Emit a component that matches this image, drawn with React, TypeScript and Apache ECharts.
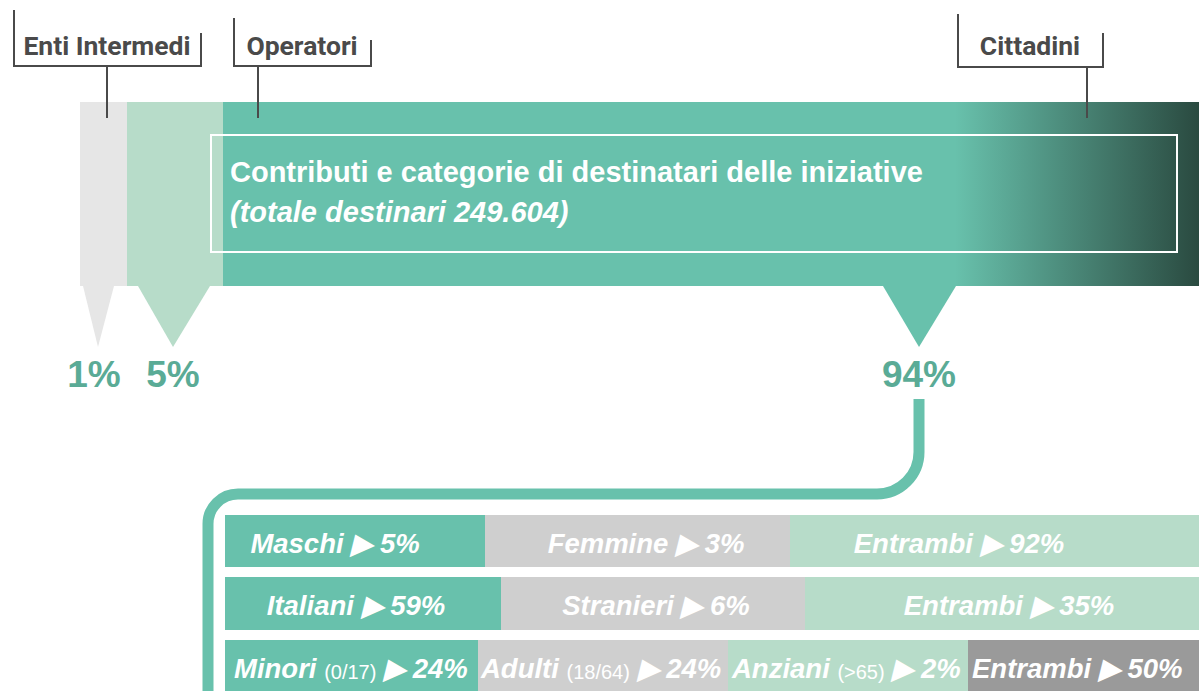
import React, { useEffect, useRef } from "react";
import * as echarts from "echarts";

// ---- data ----
const topCategories = ["Enti Intermedi", "Operatori", "Cittadini"];
const topShares = [1, 5, 94];
const titleText = "Contributi e categorie di destinatari delle iniziative";
const subtitleText = "(totale destinari 249.604)";

const genderLabels = ["Maschi", "Femmine", "Entrambi"];
const genderValues = [5, 3, 92];
const originLabels = ["Italiani", "Stranieri", "Entrambi"];
const originValues = [59, 6, 35];
const ageLabels = ["Minori", "Adulti", "Anziani", "Entrambi"];
const ageRanges = ["(0/17)", "(18/64)", "(>65)", ""];
const ageValues = [24, 24, 2, 50];

// ---- layout / style ----
const TEAL = "#68c1ac";
const LIGHT = "#b7dcc9";
const GREY = "#e6e6e6";
const MIDGREY = "#cfcfcf";
const DARKGREY = "#9a9a9a";
const PCT = "#5aab96";
const INK = "#4a4a4a";
const FONT = "'Liberation Sans', Arial, sans-serif";
const NARROW = "'Liberation Sans Narrow', 'Roboto', sans-serif";

export default function App() {
  const ref = useRef<HTMLDivElement>(null);
  useEffect(() => {
    document.body.style.margin = "0";
    const chart = echarts.init(ref.current!, null, { renderer: "svg" });
    echarts.graphic.registerShape(
      "connector",
      echarts.graphic.extendPath(
        "M919 399 L919 452 C919 475.2 900.2 494 877 494 L238 494 C221.4 494 208 507.4 208 524 L208 700",
        {}
      )
    );

    const g: any[] = [];
    // top bar segments
    const barY = 102, barH = 184;
    const segX = [80, 127, 223, 1199];
    const segCol = [GREY, LIGHT, TEAL];
    for (let i = 0; i < 3; i++) {
      g.push({ type: "rect", shape: { x: segX[i], y: barY, width: segX[i + 1] - segX[i], height: barH }, style: { fill: segCol[i] } });
    }
    g.push({
      type: "rect",
      shape: { x: 955, y: barY, width: 244, height: barH },
      style: {
        fill: new echarts.graphic.LinearGradient(0, 0, 1, 0, [
          { offset: 0, color: TEAL },
          { offset: 1, color: "#2a4a40" },
        ]),
      },
    });
    // inner box
    g.push({ type: "rect", shape: { x: 211, y: 135, width: 966, height: 117 }, style: { fill: null, stroke: "#ffffff", lineWidth: 2 } });
    g.push({ type: "text", x: 230, y: 172, style: { text: titleText, fill: "#fff", font: `bold 29px ${FONT}`, verticalAlign: "middle" } });
    g.push({ type: "text", x: 230, y: 212, style: { text: subtitleText, fill: "#fff", font: `italic bold 29px ${FONT}`, verticalAlign: "middle" } });

    // triangles + percentages
    const tri = [
      { l: 83, r: 114, a: 98, c: GREY, tx: 94 },
      { l: 138, r: 210, a: 173, c: LIGHT, tx: 173 },
      { l: 883, r: 956, a: 919, c: TEAL, tx: 919 },
    ];
    tri.forEach((t, i) => {
      g.push({ type: "polygon", shape: { points: [[t.l, 286], [t.r, 286], [t.a, 347]] }, style: { fill: t.c } });
      g.push({ type: "text", x: t.tx, y: 374, style: { text: `${topShares[i]}%`, fill: PCT, font: `bold 37px ${FONT}`, align: "center", verticalAlign: "middle" } });
    });

    // top brackets
    const br = [
      { l: 14, r: 201, lt: 10, rt: 33, by: 66, stub: 107, tx: 107 },
      { l: 234, r: 371, lt: 18, rt: 40, by: 66, stub: 258, tx: 302 },
      { l: 958, r: 1103, lt: 14, rt: 33, by: 67, stub: 1087, tx: 1030 },
    ];
    br.forEach((b, i) => {
      g.push({ type: "polyline", shape: { points: [[b.l, b.lt], [b.l, b.by], [b.r, b.by], [b.r, b.rt]] }, style: { fill: null, stroke: INK, lineWidth: 2 } });
      g.push({ type: "line", shape: { x1: b.stub, y1: b.by, x2: b.stub, y2: 118 }, style: { stroke: INK, lineWidth: 2 } });
      g.push({ type: "text", x: b.tx, y: 45, style: { text: topCategories[i], fill: INK, font: `bold 26.5px ${NARROW}`, align: "center", verticalAlign: "middle" } });
    });

    // connector
    g.push({ type: "connector", style: { fill: null, stroke: TEAL, lineWidth: 11 } });

    // rows
    const rowFont = `italic bold 27.5px ${FONT}`;
    const rows = [
      { y: 515, h: 52, x: [225, 485, 790, 1199], cols: [TEAL, MIDGREY, LIGHT], tx: [335, 646, 959], ty: 543, labels: genderLabels, values: genderValues, ranges: ["", "", ""], align: "center" },
      { y: 577, h: 53, x: [225, 501, 805, 1199], cols: [TEAL, MIDGREY, LIGHT], tx: [356, 656, 1009], ty: 605, labels: originLabels, values: originValues, ranges: ["", "", ""], align: "center" },
      { y: 640, h: 60, x: [225, 478, 728, 968, 1199], cols: [TEAL, MIDGREY, LIGHT, DARKGREY], tx: [234, 481, 732, 972], ty: 668, labels: ageLabels, values: ageValues, ranges: ageRanges, align: "left" },
    ];
    rows.forEach((r) => {
      r.labels.forEach((lab, i) => {
        g.push({ type: "rect", shape: { x: r.x[i], y: r.y, width: r.x[i + 1] - r.x[i], height: r.h }, style: { fill: r.cols[i] } });
        const rng = r.ranges[i];
        const txt = rng ? `{b|${lab} }{s|${rng}}{b| ▶ ${r.values[i]}%}` : `{b|${lab} ▶ ${r.values[i]}%}`;
        g.push({
          type: "text", x: r.tx[i], y: r.ty,
          style: {
            text: txt, fill: "#fff", align: r.align, verticalAlign: "middle",
            rich: {
              b: { font: rowFont, fill: "#fff" },
              s: { font: `20px ${FONT}`, fill: "#fff", padding: [7, 0, 0, 0] },
            },
          },
        });
      });
    });

    chart.setOption({ animation: false, graphic: { elements: g } });
    return () => chart.dispose();
  }, []);
  return <div ref={ref} style={{ position: "absolute", left: 0, top: 0, width: 1199, height: 691 }} />;
}
